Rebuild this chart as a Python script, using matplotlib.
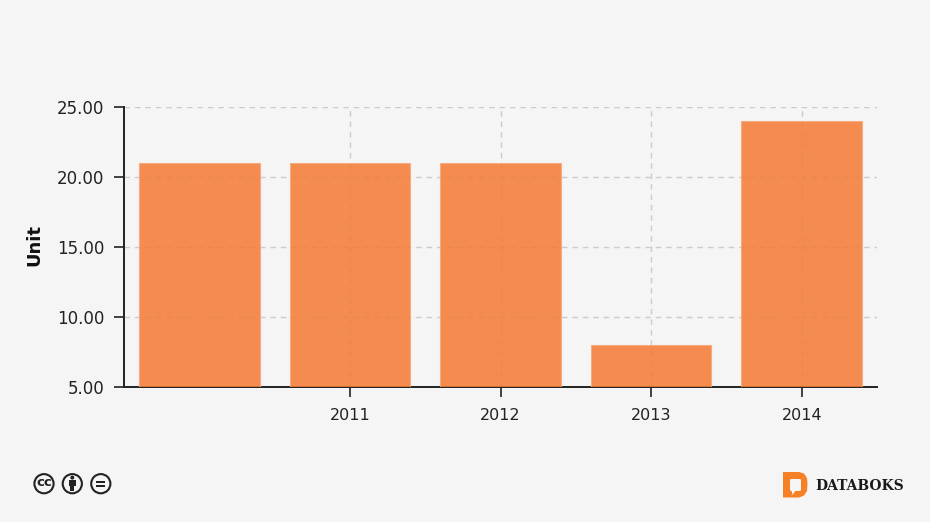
import matplotlib
matplotlib.use('Agg')
import matplotlib.pyplot as plt
from matplotlib.patches import Circle, Rectangle, Polygon, FancyBboxPatch

years = ['', '2011', '2012', '2013', '2014']
values = [21, 21, 21, 8, 24]
y_ticks = [5, 10, 15, 20, 25]

BG = '#f5f5f5'
W, H = 930, 522

fig = plt.figure(figsize=(W / 100, H / 100), dpi=100, facecolor=BG)
ax = fig.add_axes([124 / W, 1 - 386.6 / H, (877 - 124) / W, (386.6 - 106.6) / H], facecolor=BG)

xs = list(range(len(values)))
ax.bar(xs, values, width=0.8, color='#f47a33', alpha=0.85, edgecolor='#f9a878', linewidth=0.8, zorder=3)

ax.set_xlim(-0.5, 4.5)
ax.set_ylim(5, 25)
ax.set_xticks(xs[1:])
ax.set_xticklabels(years[1:])
ax.set_yticks(y_ticks)
ax.set_yticklabels(['%.2f' % v for v in y_ticks])
ax.tick_params(axis='both', length=7, width=1.3, color='#333333', labelcolor='#222222', labelsize=11.5)
ax.tick_params(axis='x', pad=8.5)
ax.tick_params(axis='y', pad=7, labelsize=12)
ax.grid(True, color='#cccccc', linestyle=(0, (4, 3.5)), linewidth=1, zorder=1)
ax.set_axisbelow(True)

for s in ['top', 'right']:
    ax.spines[s].set_visible(False)
for s in ['left', 'bottom']:
    ax.spines[s].set_color('#222222')
    ax.spines[s].set_linewidth(1.4)

ax.set_ylabel('Unit', fontsize=13, fontweight='bold', color='#111111')
ax.yaxis.set_label_coords((43 - 124) / (877 - 124), 0.505)

# footer icons, in pixel coordinates
ov = fig.add_axes([0, 0, 1, 1], facecolor='none')
ov.set_xlim(0, W)
ov.set_ylim(H, 0)
ov.axis('off')

dark = '#222222'
for cx in [44, 72.3, 100.8]:
    ov.add_patch(Circle((cx, 483.7), 9.6, fc=BG, ec=dark, lw=1.5))
ov.text(44, 483, 'cc', ha='center', va='center', fontsize=9.5, fontweight='bold', color=dark)
ov.add_patch(Circle((72.3, 477.6), 2, fc=dark, ec='none'))
ov.add_patch(Rectangle((69, 480.3), 6.6, 5.7, fc=dark, ec='none'))
ov.add_patch(Rectangle((70.4, 485), 3.8, 6, fc=dark, ec='none'))
ov.add_patch(Rectangle((96.3, 480.6), 9, 2.3, fc=dark, ec='none'))
ov.add_patch(Rectangle((96.3, 485), 9, 2.3, fc=dark, ec='none'))

orange = '#f58025'
ov.add_patch(Polygon([(783, 472), (799, 472), (804, 473.5), (807, 478), (807.5, 484),
                      (807, 491), (804, 495.5), (799, 497.5), (783, 497.5)], fc=orange, ec='none'))
ov.add_patch(FancyBboxPatch((790, 479), 11, 12, boxstyle='round,pad=0,rounding_size=1.5', fc=BG, ec='none'))
ov.add_patch(Polygon([(791.5, 490), (796, 490), (792.5, 495)], fc=BG, ec='none'))
ov.text(815, 485.5, 'DATABOKS', ha='left', va='center', fontsize=10, fontweight='bold',
        family='DejaVu Serif', color='#1a1a1a')

fig.savefig('out.png', dpi=100, facecolor=BG)
